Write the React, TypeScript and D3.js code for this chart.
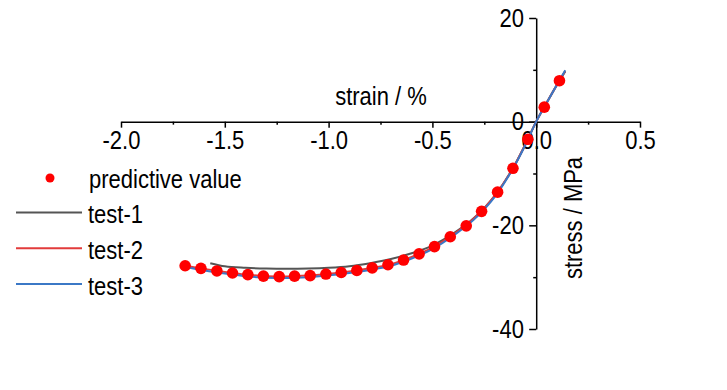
import { useEffect, useRef } from 'react';
import * as d3 from 'd3';

// predictive value (red dots)
const predStrain = [
  -1.691, -1.615, -1.538, -1.463, -1.389, -1.314, -1.238, -1.164, -1.089, -1.013,
  -0.939, -0.864, -0.79, -0.714, -0.639, -0.564, -0.49, -0.414, -0.337, -0.263,
  -0.186, -0.112, -0.04, 0.039, 0.112,
];
const predStress = [
  -27.8, -28.3, -28.8, -29.2, -29.5, -29.8, -29.9, -29.8, -29.7, -29.4,
  -29.1, -28.7, -28.2, -27.6, -26.7, -25.5, -24.1, -22.2, -20.1, -17.3,
  -13.6, -9.0, -3.4, 2.8, 7.9,
];

// test curves
const test1Strain = [-1.57, -1.5, -1.4, -1.3, -1.2, -1.1, -1.0, -0.9, -0.8, -0.7, -0.6, -0.5, -0.4, -0.3, -0.2, -0.1, -0.05, 0, 0.05, 0.1, 0.14];
const test1Stress = [-27.3, -27.9, -28.2, -28.35, -28.4, -28.35, -28.2, -27.9, -27.3, -26.5, -25.4, -23.9, -21.6, -18.6, -14.3, -8.1, -4.2, 0, 3.6, 7.1, 9.7];

const test2Strain = [-1.7, -1.6, -1.5, -1.4, -1.3, -1.2, -1.1, -1.0, -0.9, -0.8, -0.7, -0.6, -0.5, -0.4, -0.3, -0.2, -0.1, -0.05, 0, 0.05, 0.1, 0.14];
const test2Stress = [-27.7, -28.4, -29.0, -29.5, -29.8, -29.85, -29.7, -29.35, -28.9, -28.3, -27.5, -26.1, -24.3, -21.8, -18.7, -14.3, -8.1, -4.2, 0, 3.6, 7.1, 9.8];

const test3Strain = [-1.71, -1.6, -1.5, -1.4, -1.3, -1.2, -1.1, -1.0, -0.9, -0.8, -0.7, -0.6, -0.5, -0.4, -0.3, -0.2, -0.1, -0.05, 0, 0.05, 0.1, 0.14];
const test3Stress = [-27.9, -28.7, -29.3, -29.8, -30.1, -30.15, -30.0, -29.65, -29.2, -28.6, -27.8, -26.4, -24.6, -22.0, -18.9, -14.5, -8.2, -4.3, 0, 3.6, 7.1, 9.9];

const xTicks = [-2.0, -1.5, -1.0, -0.5, 0.0, 0.5];
const xTickLabels = ['-2.0', '-1.5', '-1.0', '-0.5', '0.0', '0.5'];
const xMinorTicks = [-1.75, -1.25, -0.75, -0.25, 0.25];
const yTicks = [20, 0, -20, -40];
const yTickLabels = ['20', '0', '-20', '-40'];
const yMinorTicks = [10, -10, -30];

const series = [
  { name: 'test-1', strain: test1Strain, stress: test1Stress, color: '#555555' },
  { name: 'test-2', strain: test2Strain, stress: test2Stress, color: '#e23b3b' },
  { name: 'test-3', strain: test3Strain, stress: test3Stress, color: '#3b78c6' },
];

const FONT = '"Liberation Sans", Arial, sans-serif';
const FS = 25;
const SX = 0.88; // text in the original is a bit condensed

export default function App() {
  const svgRef = useRef<SVGSVGElement>(null);

  useEffect(() => {
    if (!svgRef.current) return;
    const svg = d3.select(svgRef.current);
    svg.selectAll('*').remove();

    const x = d3.scaleLinear().domain([-2, 0.5]).range([121, 640]);
    const y = d3.scaleLinear().domain([-40, 20]).range([329, 18]);

    // x axis at stress = 0
    const xAxis = svg.append('g').attr('transform', `translate(0,${y(0)})`);
    xAxis.call(
      d3.axisBottom(x)
        .tickValues(xTicks)
        .tickFormat((_, i) => xTickLabels[i])
        .tickSize(6)
        .tickSizeOuter(0)
        .tickPadding(4)
    );
    xAxis.append('g').call(
      d3.axisBottom(x).tickValues(xMinorTicks).tickFormat(() => '').tickSize(3).tickSizeOuter(0)
    ).select('.domain').remove();

    // y axis at strain = 0
    const yAxis = svg.append('g').attr('transform', `translate(${x(0)},0)`);
    yAxis.call(
      d3.axisLeft(y)
        .tickValues(yTicks)
        .tickFormat((_, i) => yTickLabels[i])
        .tickSize(7)
        .tickSizeOuter(0)
        .tickPadding(7)
    );
    yAxis.append('g').call(
      d3.axisLeft(y).tickValues(yMinorTicks).tickFormat(() => '').tickSize(3).tickSizeOuter(0)
    ).select('.domain').remove();

    svg.selectAll('.domain, .tick line').attr('stroke', '#000').attr('stroke-width', 1.5);
    svg.selectAll('.tick text')
      .attr('fill', '#000')
      .attr('font-family', FONT)
      .attr('font-size', FS)
      .attr('transform', `scale(${SX},1)`);

    // axis titles
    svg.append('text')
      .attr('transform', `translate(381,105) scale(${SX},1)`)
      .attr('text-anchor', 'middle')
      .attr('font-family', FONT)
      .attr('font-size', FS)
      .text('strain / %');

    svg.append('text')
      .attr('transform', `translate(582,218) rotate(-90) scale(${SX},1)`)
      .attr('text-anchor', 'middle')
      .attr('font-family', FONT)
      .attr('font-size', FS)
      .text('stress / MPa');

    // curves
    const lineGen = d3.line<[number, number]>()
      .x((d) => x(d[0]))
      .y((d) => y(d[1]))
      .curve(d3.curveMonotoneX);

    series.forEach((s) => {
      const pts = s.strain.map((v, i) => [v, s.stress[i]] as [number, number]);
      svg.append('path')
        .datum(pts)
        .attr('d', lineGen)
        .attr('fill', 'none')
        .attr('stroke', s.color)
        .attr('stroke-width', 2);
    });

    // predictive dots
    svg.append('g')
      .selectAll('circle')
      .data(predStrain.map((v, i) => [v, predStress[i]]))
      .join('circle')
      .attr('cx', (d) => x(d[0]))
      .attr('cy', (d) => y(d[1]))
      .attr('r', 5.8)
      .attr('fill', '#ff0000');

    // legend
    const legend = svg.append('g').attr('font-family', FONT).attr('font-size', FS);
    legend.append('circle').attr('cx', 50).attr('cy', 178).attr('r', 4.5).attr('fill', '#ff0000');
    legend.append('text')
      .attr('transform', `translate(89,188) scale(${SX},1)`)
      .text('predictive value');
    series.forEach((s, i) => {
      const ly = 212.5 + i * 35.8;
      legend.append('line')
        .attr('x1', 16).attr('x2', 82)
        .attr('y1', ly).attr('y2', ly)
        .attr('stroke', s.color)
        .attr('stroke-width', 2);
      legend.append('text')
        .attr('transform', `translate(88,${ly + 10.5}) scale(${SX},1)`)
        .text(s.name);
    });
  }, []);

  return (
    <div style={{ position: 'fixed', left: 0, top: 0, width: 727, height: 390, background: '#fff' }}>
      <svg ref={svgRef} width={727} height={390} />
    </div>
  );
}
